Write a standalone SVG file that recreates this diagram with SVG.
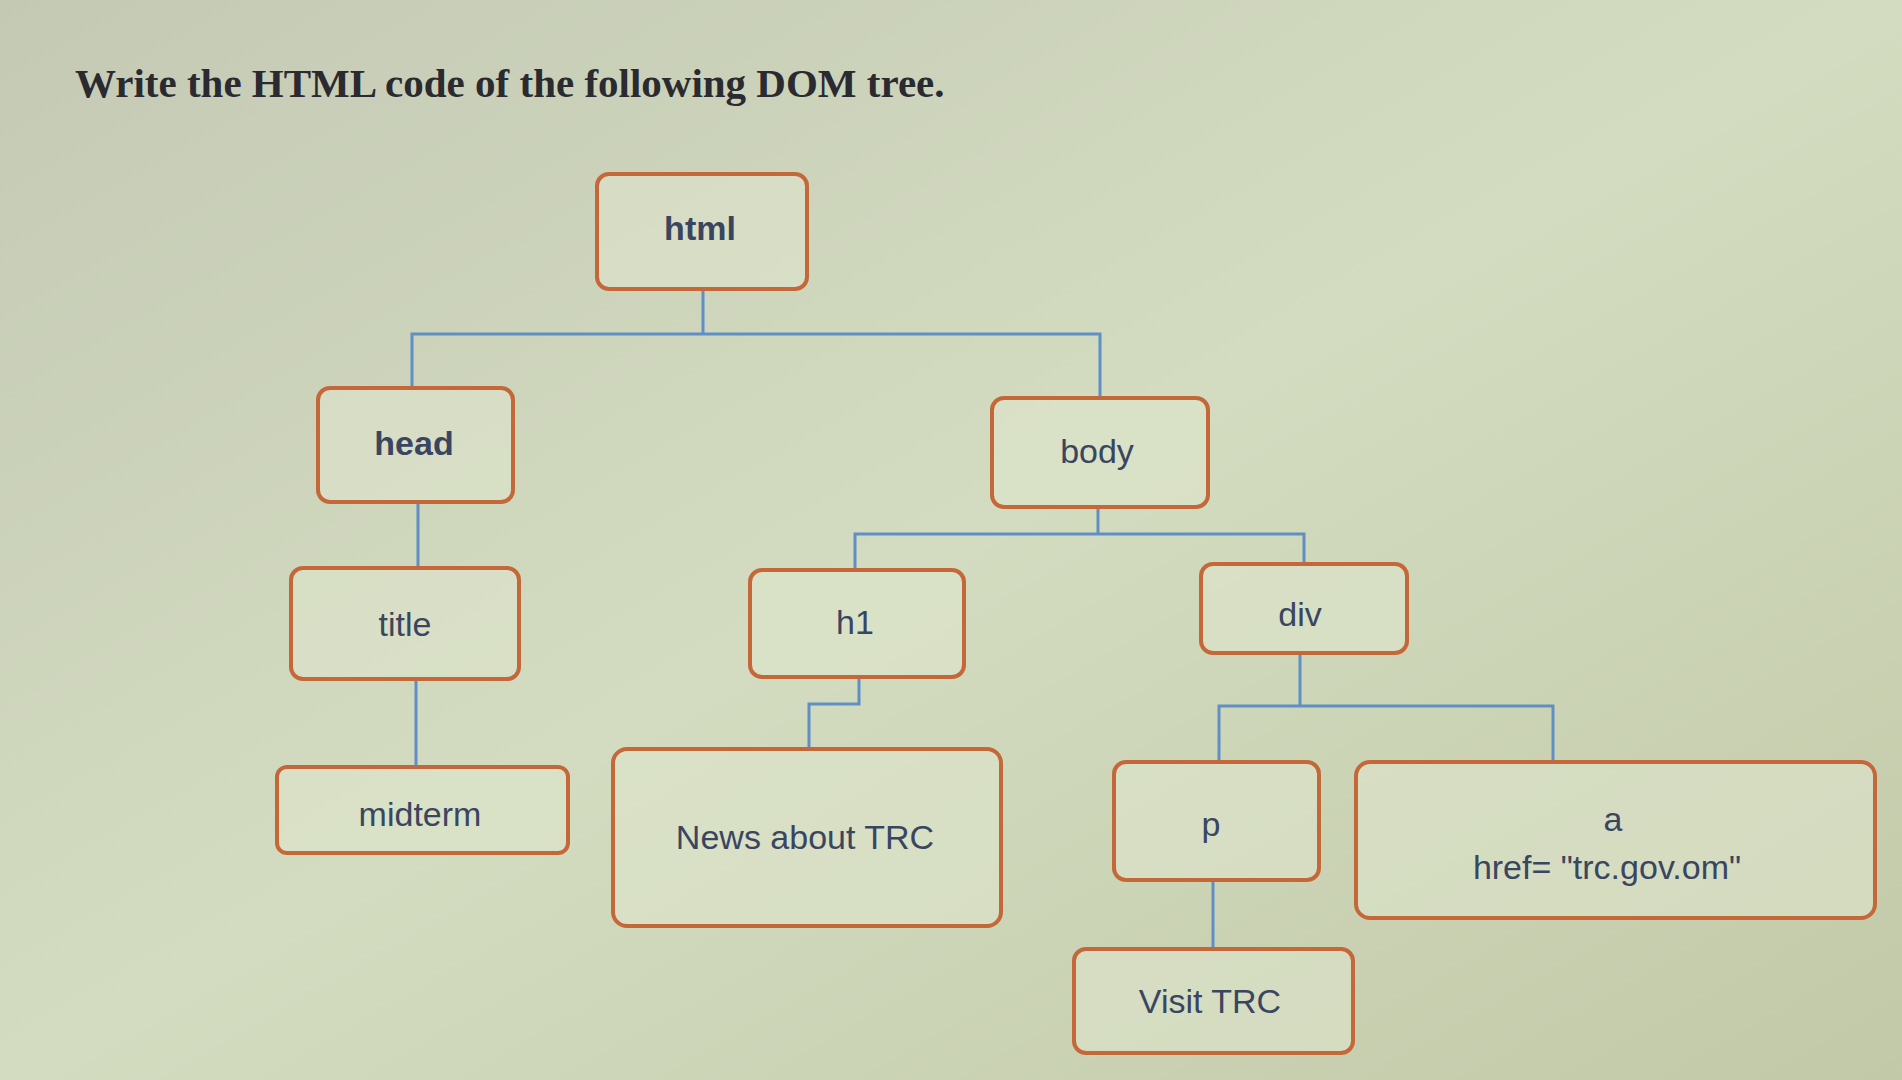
<svg xmlns="http://www.w3.org/2000/svg" width="1902" height="1080" viewBox="0 0 1902 1080">
<defs>
<linearGradient id="bg" x1="0" y1="0" x2="1" y2="1">
<stop offset="0" stop-color="#c4c9b4"/>
<stop offset="0.5" stop-color="#d3dcc0"/>
<stop offset="1" stop-color="#c2c9a8"/>
</linearGradient>
</defs>
<style>
.n rect{fill:#dde4cc;fill-opacity:0.6;stroke:#c4683a;stroke-width:4}
.n text{font-family:"Liberation Sans",Arial,sans-serif;font-size:34px;fill:#3a4660;text-anchor:middle}
.c path{fill:none;stroke:#5f8fc4;stroke-width:3}
</style>
<rect width="1902" height="1080" fill="url(#bg)"/>
<text x="75" y="97" font-family="Liberation Serif,serif" font-size="41" font-weight="bold" fill="#2a2a30">Write the HTML code of the following DOM tree.</text>
<g class="c">
<path d="M703 289V334M412 388V334H1100V398"/>
<path d="M418 502V568"/>
<path d="M416 679V767"/>
<path d="M1098 507V534M855 570V534H1304V564"/>
<path d="M859 677V704H809V749"/>
<path d="M1300 653V706M1219 762V706H1553V762"/>
<path d="M1213 880V949"/>
</g>
<g id="html" class="n"><rect x="597" y="174" width="210" height="115" rx="12"/><text x="700" y="240" font-weight="bold">html</text></g>
<g id="head" class="n"><rect x="318" y="388" width="195" height="114" rx="12"/><text x="414" y="455" font-weight="bold">head</text></g>
<g id="body" class="n"><rect x="992" y="398" width="216" height="109" rx="12"/><text x="1097" y="463">body</text></g>
<g id="title" class="n"><rect x="291" y="568" width="228" height="111" rx="12"/><text x="405" y="636">title</text></g>
<g id="h1" class="n"><rect x="750" y="570" width="214" height="107" rx="12"/><text x="855" y="634">h1</text></g>
<g id="div" class="n"><rect x="1201" y="564" width="206" height="89" rx="12"/><text x="1300" y="626">div</text></g>
<g id="midterm" class="n"><rect x="277" y="767" width="291" height="86" rx="10"/><text x="420" y="826">midterm</text></g>
<g id="news" class="n"><rect x="613" y="749" width="388" height="177" rx="14"/><text x="805" y="849">News about TRC</text></g>
<g id="p" class="n"><rect x="1114" y="762" width="205" height="118" rx="12"/><text x="1211" y="836">p</text></g>
<g id="a" class="n"><rect x="1356" y="762" width="519" height="156" rx="14"/><text x="1613" y="831">a</text><text x="1607" y="879">href= "trc.gov.om"</text></g>
<g id="visit" class="n"><rect x="1074" y="949" width="279" height="104" rx="12"/><text x="1210" y="1013">Visit TRC</text></g>
</svg>
